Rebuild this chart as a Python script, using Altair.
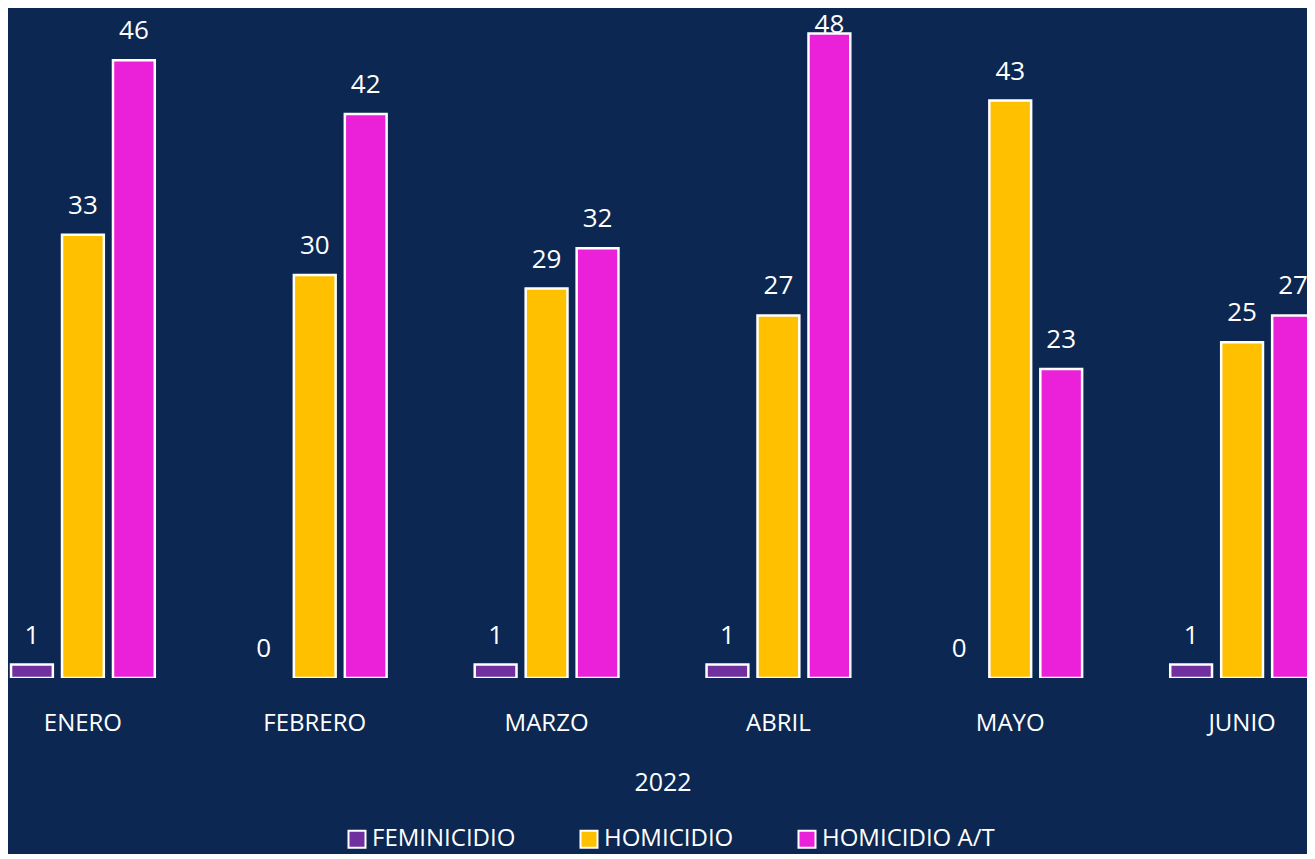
import altair as alt
import pandas as pd

months = ["ENERO", "FEBRERO", "MARZO", "ABRIL", "MAYO", "JUNIO"]
series = ["FEMINICIDIO", "HOMICIDIO", "HOMICIDIO A/T"]
feminicidio = [1, 0, 1, 1, 0, 1]
homicidio = [33, 30, 29, 27, 43, 25]
homicidio_at = [46, 42, 32, 48, 23, 27]
colors = ["#7030a0", "#ffc000", "#eb21d9"]
year_label = "2022"

rows = []
for s, vals in zip(series, [feminicidio, homicidio, homicidio_at]):
    for m, v in zip(months, vals):
        rows.append({"mes": m, "tipo": s, "valor": v})
df = pd.DataFrame(rows)

BG = "#0c2751"
FONT = "Open Sans"

x = alt.X(
    "mes:N",
    sort=months,
    title=year_label,
    scale=alt.Scale(range=[-41, 1350], paddingInner=0.38, paddingOuter=0.19),
    axis=alt.Axis(
        domain=False, ticks=False, tickSize=0, labelPadding=33,
        labelFontSize=24, labelColor="white", labelFont=FONT, labelAngle=0,
        titleFontSize=25, titleColor="white", titleFont=FONT,
        titleFontWeight="normal", titlePadding=35,
    ),
)
xo = alt.XOffset("tipo:N", sort=series,
                 scale=alt.Scale(paddingInner=0.18, paddingOuter=0))
yscale = alt.Scale(domain=[0, 49.89], nice=False)
y = alt.Y("valor:Q", scale=yscale, axis=None)

base = alt.Chart(df).encode(x=x, xOffset=xo)

bars = base.mark_bar(stroke="white", clip=True).encode(
    y=y,
    color=alt.Color(
        "tipo:N", sort=series,
        scale=alt.Scale(domain=series, range=colors),
        legend=alt.Legend(
            title=None, orient="none", direction="horizontal",
            legendX=337, legendY=819,
            symbolType="square", symbolSize=289,
            symbolStrokeColor="white", symbolStrokeWidth=2,
            symbolOpacity=1,
            labelFontSize=24, labelColor="white", labelFont=FONT,
            labelOffset=3, labelLimit=400, columnPadding=60,
        ),
    ),
    strokeWidth=alt.condition(alt.datum.valor > 0, alt.value(2.5), alt.value(0)),
)

# labels that would leave the plot area are kept just inside its top edge
labels = base.transform_calculate(
    ly="min(datum.valor, 46.45)"
).mark_text(
    dy=-21, baseline="alphabetic", fontSize=26, color="white", font=FONT
).encode(
    y=alt.Y("ly:Q", scale=yscale, axis=None),
    text="valor:Q",
)

chart = (
    alt.layer(bars, labels)
    .properties(
        width=1299, height=670,
        autosize=alt.AutoSizeParams(type="none"),
        padding={"left": 0, "top": 0, "right": 0, "bottom": 176},
        background=BG,
    )
    .configure_view(strokeWidth=0)
)

chart.save("out.html", embed_options={"renderer": "svg", "actions": False})
